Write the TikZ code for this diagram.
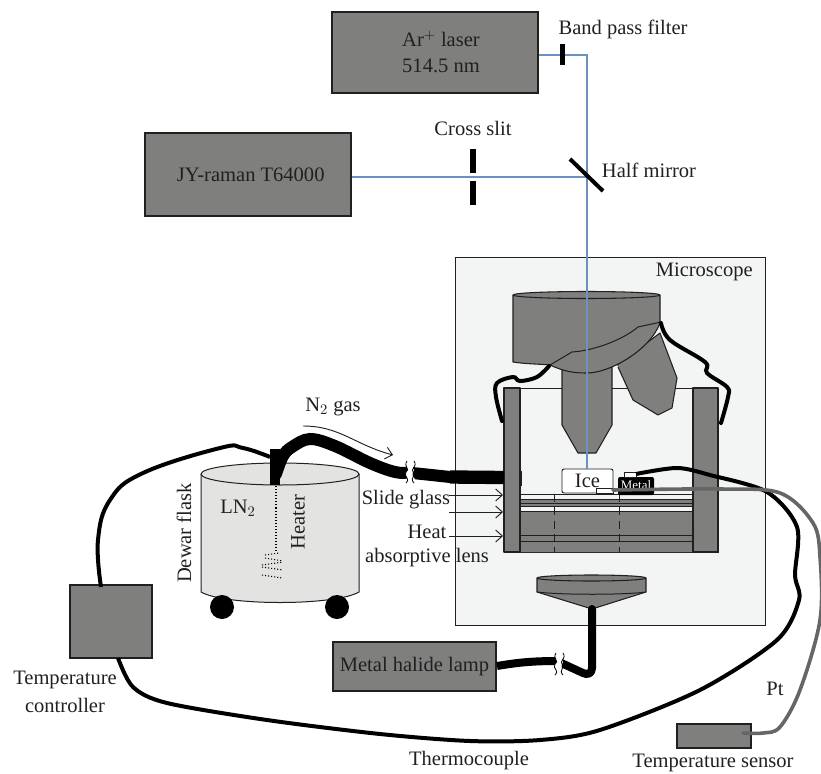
\documentclass[tikz,border=0pt]{standalone}
\usepackage{fontspec}
\setmainfont{Liberation Serif}
\usetikzlibrary{arrows.meta,positioning}
\definecolor{boxgray}{HTML}{7F7F7E}
\definecolor{scopebg}{HTML}{F3F5F5}
\definecolor{flaskbg}{HTML}{E3E3E1}
\definecolor{beamblue}{HTML}{6C90BF}
\definecolor{ptgray}{HTML}{666666}
\definecolor{ink}{HTML}{231F20}
\tikzset{box/.style={draw=ink,fill=boxgray,line width=.9pt,inner sep=0pt,align=center,text=ink},lab/.style={align=center,inner sep=0pt,text=ink},
part/.style={draw=ink,fill=boxgray,line width=.8pt,line join=round},thin line/.style={draw=ink,line width=.75pt},
beam/.style={beamblue,line width=1.1pt},wire/.style={black,line width=3pt},ptw/.style={ptgray,line width=2.7pt},hose/.style={black,line cap=round},
arr/.style={ink,line width=.7pt,-{Straight Barb[length=5pt,width=9pt]}},
dots/.style={black,line width=.8pt,dash pattern=on .8pt off 1.5pt},
brk/.pic={\fill[white](-2,-11)..controls(-6,-5)and(2,-3)..(-3,0)..controls(-6,5)and(2,6)..(-3,11)--(5,11)..controls(9,6)and(1,5)..(4,0)..controls(8,-3)and(0,-5)..(5,-11)--cycle;
\draw[black,line width=.6pt](-2,-11)..controls(-6,-5)and(2,-3)..(-3,0)..controls(-6,5)and(2,6)..(-3,11);
\draw[black,line width=.6pt](5,-11)..controls(9,-5)and(1,-3)..(4,0)..controls(8,3)and(0,6)..(5,11);}}
\begin{document}
\begin{tikzpicture}[x=.75pt,y=-.75pt,font=\fontsize{15.4}{19}\selectfont]
\useasboundingbox(0,0)rectangle(821,774);
% boxes
\node[box,minimum width=154.5pt,minimum height=60.75pt](laser)at(435,52.5){};
\node[lab](laserlab)at(441,52){Ar$^{+}$ laser\\514.5 nm};
\node[box,minimum width=154.5pt,minimum height=62.25pt](raman)at(248,174.5){\hspace{4pt}JY-raman T64000};
\node[box,minimum width=61.5pt,minimum height=54.75pt](controller)at(111,621.5){};
\node[box,minimum width=122.25pt,minimum height=36.75pt](lamp)at(414.5,666.5){Metal halide lamp};
\node[box,minimum width=55.5pt,minimum height=18pt](sensor)at(714,736){};
% microscope
\draw[thin line,fill=scopebg](455,257)rectangle(765,625.5);
\node[lab,anchor=east](scopelab)at(753,272){Microscope};
\draw[thin line](504,388)rectangle(718,552);
\fill[boxgray](520,499)rectangle(693,506) (520,511)rectangle(693,552);
\foreach\y in{494,499,503,506,511,535,541}\draw[thin line](520,\y)--(693,\y);
\foreach\x in{554,619}\draw[thin line,dash pattern=on 6pt off 4pt](\x,494)--(\x,552);
\draw[part](504,388)rectangle(520,552);\draw[part](693,388)rectangle(718,552);
\draw[part](617,365)--(660,333)--(677,378)--(672,408)--(658,415)--(633,400)--(618,367);
\draw[part](562,365)--(562,425)--(578,453)--(596,453)--(612,425)--(612,365)--cycle;
\draw[part](513,295)--(513,362)..controls(525,364)and(540,364)..(550,365)..controls(565,372)and(575,373)..(587,373)..controls(610,373)and(650,350)..(660,323)--(660,295);
\draw[part](586.5,295)ellipse[x radius=73.5,y radius=3.5];
\draw[thin line](550,365)--(572,352)..controls(590,351)and(620,342)..(638,327)--(661,322);
% sample
\node[draw=ink,fill=white,line width=.7pt,rounded corners=1.5pt,minimum width=38.25pt,minimum height=18pt,inner sep=0pt,text=ink](ice)at(587.5,481){Ice};
\node[fill=black,rounded corners=1.5pt,minimum width=27pt,minimum height=13.5pt,inner sep=0pt,text=white,font=\fontsize{9.7}{11}\selectfont](metal)at(636,486){\raisebox{2.2pt}{Metal}};
\node[draw=ink,fill=white,line width=.6pt,minimum width=9pt,minimum height=3.75pt,inner sep=0pt](tcjoint)at(630,474.5){};
\node[draw=ink,fill=white,line width=.6pt,minimum width=12.75pt,minimum height=3.75pt,inner sep=0pt](ptjoint)at(604.5,490.5){};
% optics
\coordinate(bend)at(587,55);\coordinate(split)at(587,177);
\draw[beam](laser.east|-bend)--(bend)--(split)--(ice.north-|split);
\draw[beam](raman.east|-split)--(split);
\draw[black,line width=3.8pt](562.5,44)--(562.5,65);
\foreach\a/\b in{149/173,181/205}\draw[black,line width=3.8pt](473,\a)--(473,\b);
\draw[black,line width=3pt](570,159)--(603,191);
\node[lab](filterlab)at(623,29){Band pass filter};
\node[lab](slitlab)at(473,128){Cross slit};
\node[lab](mirrorlab)at(649,170){Half mirror};
% flask
\draw[thin line,fill=flaskbg](201,474)--(201,592)..controls(225,606)and(335,606)..(359,592)--(359,474);
\draw[thin line,fill=flaskbg](280,474)ellipse[x radius=79,y radius=11];
\foreach\x in{222,337}\fill[black](\x,607)circle[radius=12];
\draw[dots](276,486)--(276,552);
\foreach\a/\b/\c/\d in{265/555/279/553,265/558/283/561,262/565/283/562,262/567/283/570,262/575/282/578}\draw[dots](\a,\b)--(\c,\d);
\node[lab,rotate=90](dewarlab)at(184,533){Dewar flask};
\node[lab,rotate=90](heaterlab)at(298,522){Heater};
\node[lab](lnlab)at(238,508){LN$_2$};
\node[lab](gaslab)at(333,407){N$_2$ gas};
\draw[arr](303,426)..controls(340,426)and(355,445)..(393,455);
% hoses
\fill[black](270,449)rectangle(280,485);
\draw[hose,line width=9pt]plot[smooth,tension=.6]coordinates{(276,474)(283,456)(292,447)(310,439)(335,446)(370,463)(395,472)(412,473)(450,477)};
\draw[black,line width=10pt](450,477)--(504,477.5);
\draw[thin line](521,471)--(521,486);
\pic at(409,472){brk};
\draw[part](537,578)--(537,592)--(592,609)--(646,592)--(646,578);
\draw[thin line](537,592)..controls(560,595)and(625,595)..(646,592);
\draw[part](591.5,578)ellipse[x radius=54.5,y radius=3];
\coordinate(lampend)at(497,666);
\draw[hose,line width=6pt,line join=round](592,609)--(592,668)..controls(592,674)and(587,675)..(583,673)--(557,661);
\draw[black,line width=6pt](lampend)..controls(515,663)and(530,661)..(557,661);
\pic at(558,664){brk};
\node[lab](slidelab)at(406,500){Slide glass};
\node[lab](lenslab)at(427,546){Heat\\[-1.5pt]absorptive lens};
\foreach\y in{495,512,536}\draw[arr](449,\y)--(503,\y);
% wires
\coordinate(tcend)at(636,474);\coordinate(ptend)at(613,490);\coordinate(gasend)at(270,457);
\coordinate(ctltop)at(101,587);\coordinate(ctlbot)at(118,658);\coordinate(ptstub)at(743,733);
\draw[wire]plot[smooth,tension=.7]coordinates{(ctltop)(98,540)(110,500)(143,473)(220,448)(243,448)(gasend)};
\draw[wire]plot[smooth,tension=.5]coordinates{(tcend)(677,468)(710,475)(767,492)(797,527)(795,575)(799,600)(777,640)(700,690)(600,730)(540,740)(470,741)(380,734)(267,720)(167,703)(133,687)(ctlbot)};
\draw[ptw,line cap=round]plot[smooth,tension=.55]coordinates{(ptend)(720,489)(780,493)(813,523)(820,557)(820,620)(800,690)(780,727)(763,733)(ptstub)};
\draw[wire,line cap=round]plot[smooth,tension=.6]coordinates{(549,366)(537,377)(520,381)(513,377)(497,383)(496,397)(502,421)};
\draw[wire,line cap=round]plot[smooth,tension=.6]coordinates{(661,323)(670,340)(705,362)(707,373)(727,387)(728,397)(721,423)};
\node[lab](controllerlab)at(65,692){Temperature\\[2pt]controller};
\node[lab](thermolab)at(469,761){Thermocouple};
\node[lab](sensorlab)at(713,763){Temperature sensor};
\node[lab](ptlab)at(775,689){Pt};
\end{tikzpicture}
\end{document}
